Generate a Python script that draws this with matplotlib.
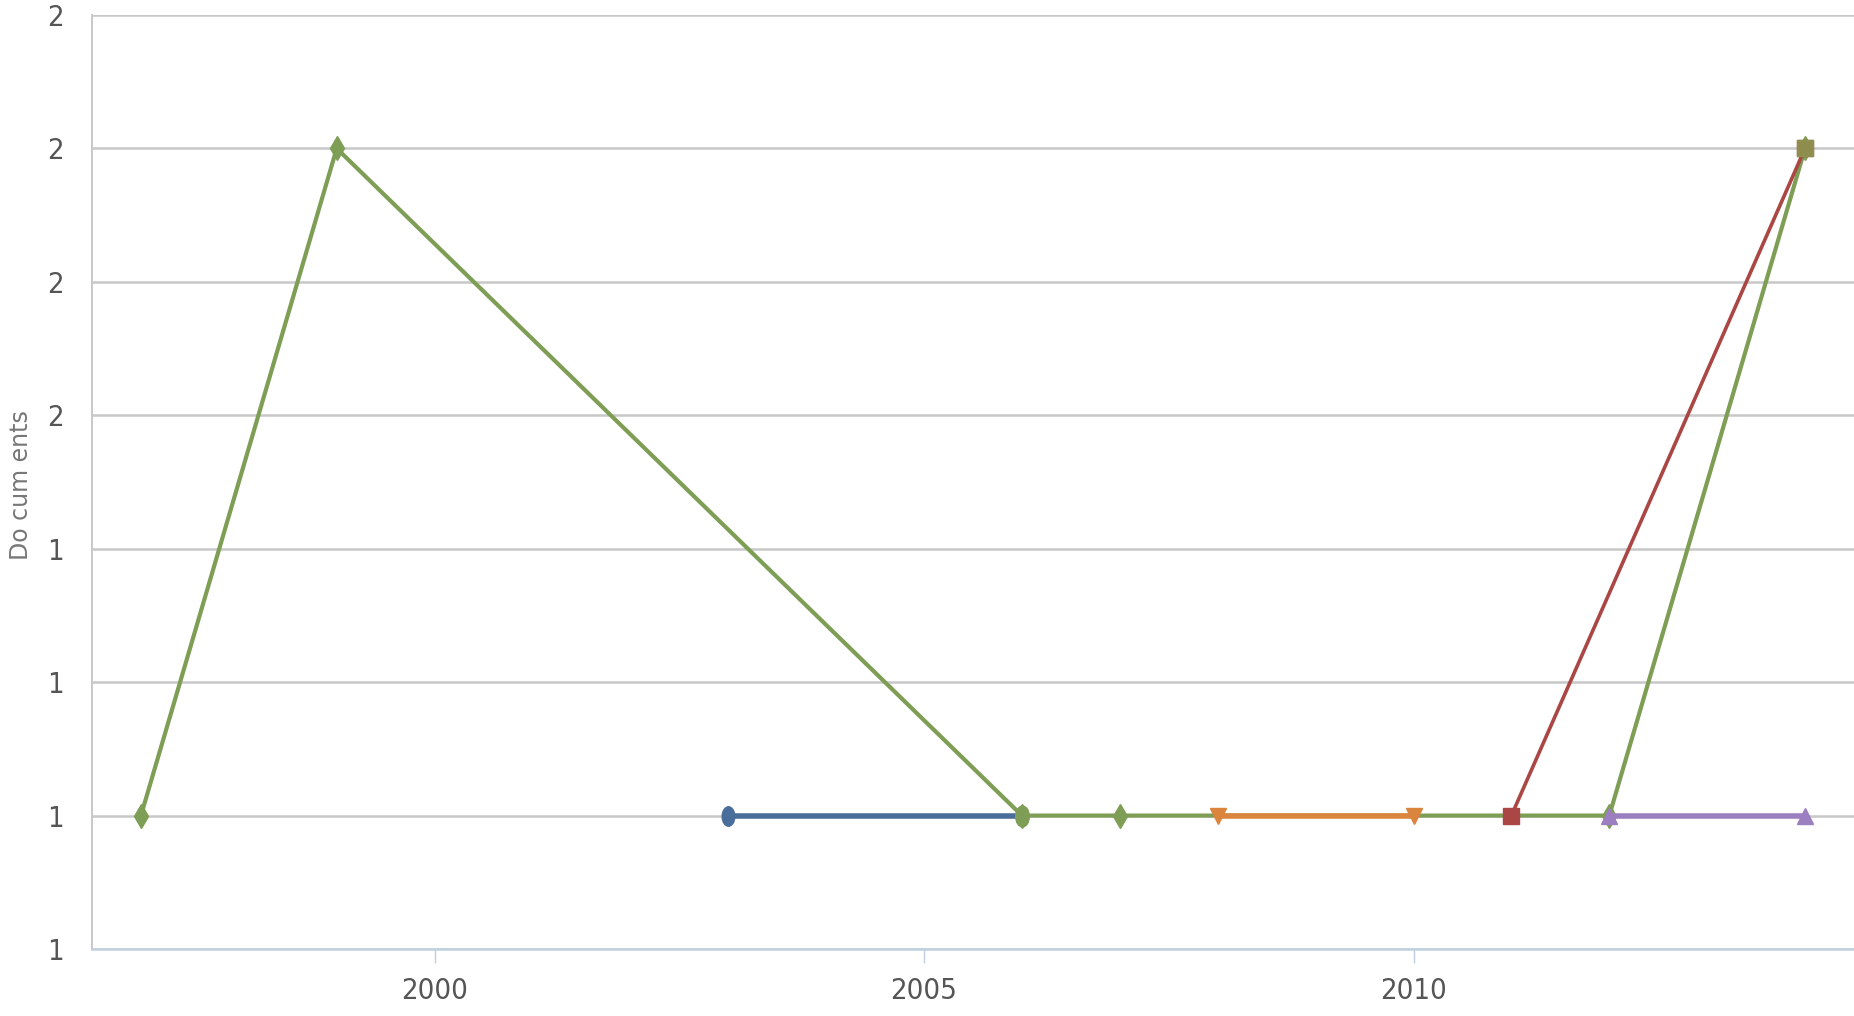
import matplotlib
matplotlib.use("Agg")
import matplotlib.pyplot as plt
from matplotlib.ticker import MultipleLocator, FormatStrFormatter
from matplotlib.path import Path
from matplotlib.transforms import Affine2D
from matplotlib import font_manager

# Data: documents per year for each series
blue_years = [2003, 2006]
blue_docs = [1, 1]

green_years = [1997, 1999, 2006, 2007, 2012, 2014]
green_docs = [1, 2, 1, 1, 1, 2]

orange_years = [2008, 2010]
orange_docs = [1, 1]

red_years = [2011, 2014]
red_docs = [1, 2]

purple_years = [2012, 2014]
purple_docs = [1, 1]

x_ticks = [2000, 2005, 2010]

# condensed font for tick labels if available
names = {f.name for f in font_manager.fontManager.ttflist}
if "Liberation Sans Narrow" in names:
    tick_font = dict(family="Liberation Sans Narrow")
else:
    tick_font = dict(family="DejaVu Sans", stretch="condensed")

# tall ellipse marker (the original looks squeezed horizontally)
ellipse = Path.unit_circle().transformed(Affine2D().scale(0.65, 1.0))

fig = plt.figure(figsize=(18.54, 10.16), dpi=100)
ax = fig.add_axes([92 / 1854, 1 - 949 / 1016, 1 - 92 / 1854, (949 - 15) / 1016])

ax.plot(blue_years, blue_docs, color="#4A6E9C", lw=4.0, marker=ellipse, ms=14, zorder=3)
ax.plot(green_years, green_docs, color="#7F9E55", lw=3.0, marker="d", ms=12, zorder=4)
# the 2006 green point looks round
ax.plot(green_years[2:3], green_docs[2:3], color="#7F9E55", marker=ellipse, ms=15, ls="none", zorder=4)
ax.plot(orange_years, orange_docs, color="#DB843D", lw=4.0, marker="v", ms=12, zorder=5)
ax.plot(red_years, red_docs, color="#AA4643", lw=2.6, marker="s", ms=11, zorder=5)
ax.plot(purple_years, purple_docs, color="#9B7FC0", lw=4.0, marker="^", ms=12, zorder=5)
# green marker on top at 2014
ax.plot(green_years[-1:], green_docs[-1:], color="#8A9A50", marker="s", ms=11, ls="none", zorder=6, alpha=0.85)

ax.set_xlim(1996.5, 2014.5)
ax.set_ylim(0.8, 2.2)
ax.set_xticks(x_ticks)
ax.yaxis.set_major_locator(MultipleLocator(0.2))
ax.yaxis.set_major_formatter(FormatStrFormatter("%.0f"))

ax.grid(axis="y", color="#C8C8C8", lw=1.8)
ax.set_axisbelow(True)

for side in ["top", "right"]:
    ax.spines[side].set_visible(False)
ax.spines["left"].set_color("#C8C8C8")
ax.spines["left"].set_linewidth(1.4)
ax.spines["bottom"].set_color("#C0D0E0")
ax.spines["bottom"].set_linewidth(1.8)

ax.tick_params(axis="y", length=0, pad=20, labelsize=21, labelcolor="#555555")
ax.tick_params(axis="x", length=10, width=1, color="#C0D0E0", pad=10, labelsize=21, labelcolor="#555555")
for lab in ax.get_xticklabels() + ax.get_yticklabels():
    lab.set(**tick_font)

fig.text(21 / 1854, 1 - 485 / 1016, "Do cum ents", rotation=90, ha="center", va="center",
         fontsize=17, color="#777777")

fig.savefig("out.png", dpi=100)
